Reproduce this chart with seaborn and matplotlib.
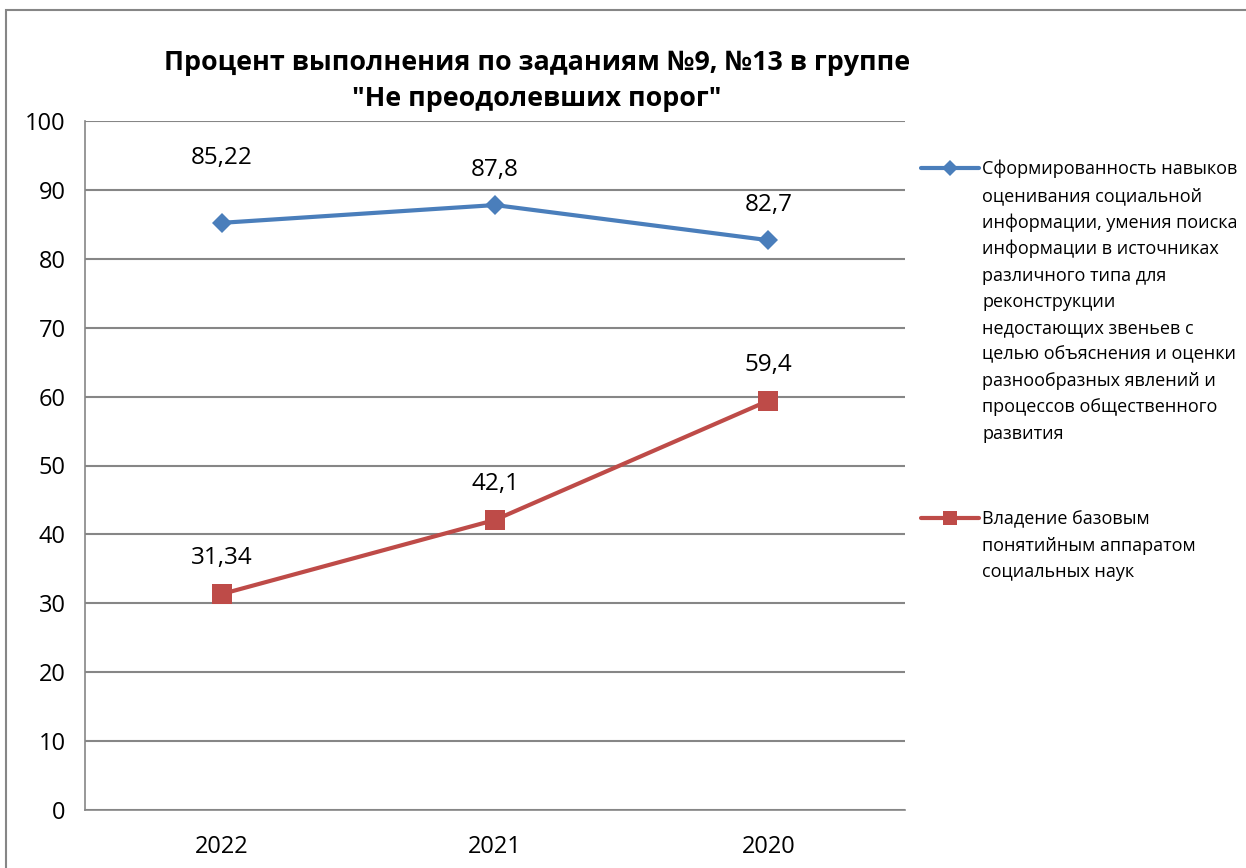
import matplotlib
matplotlib.use("Agg")
import matplotlib.pyplot as plt
import matplotlib.patches as mpatches
from matplotlib.lines import Line2D
import pandas as pd
import seaborn as sns

# Chart data
years = ["2022", "2021", "2020"]
skills_values = [85.22, 87.8, 82.7]
concepts_values = [31.34, 42.1, 59.4]
skills_label = ["Сформированность навыков", "оценивания социальной",
                "информации, умения поиска", "информации в источниках",
                "различного типа для", "реконструкции",
                "недостающих звеньев с", "целью объяснения и оценки",
                "разнообразных явлений и", "процессов общественного",
                "развития"]
concepts_label = ["Владение базовым", "понятийным аппаратом", "социальных наук"]
title = 'Процент выполнения по заданиям №9, №13 в группе\n"Не преодолевших порог"'
y_ticks = [0, 10, 20, 30, 40, 50, 60, 70, 80, 90, 100]

sns.set_style("white")
plt.rcParams['font.family'] = ['Open Sans', 'DejaVu Sans']
plt.rcParams['text.color'] = 'black'
plt.rcParams['xtick.labelcolor'] = 'black'
plt.rcParams['ytick.labelcolor'] = 'black'

blue = "#4A7EBB"
red = "#BE4B48"
grid_gray = "#868686"

df = pd.DataFrame({"year": years, "skills": skills_values, "concepts": concepts_values})

fig = plt.figure(figsize=(12.46, 8.68), dpi=100)
ax = fig.add_axes([85 / 1246, 1 - 810 / 868, 820 / 1246, 689 / 868])

sns.lineplot(data=df, x="year", y="skills", ax=ax, color=blue, linewidth=3,
             marker="D", markersize=10.5, markeredgewidth=0, sort=False)
sns.lineplot(data=df, x="year", y="concepts", ax=ax, color=red, linewidth=3,
             marker="s", markersize=14, markeredgewidth=0, sort=False)

# data labels above each point
label_offsets = [[47, 25, 25], [26, 26, 26]]
for series, offs in zip([skills_values, concepts_values], label_offsets):
    for i, (v, off) in enumerate(zip(series, offs)):
        ax.annotate(f"{v:g}".replace(".", ","), (i, v), xytext=(0, off),
                    textcoords="offset points", ha="center", va="center",
                    fontsize=17.5, color="black")

ax.set_xlim(-0.5, len(years) - 0.5)
ax.set_ylim(0, 100)
ax.set_yticks(y_ticks)
ax.set_xticks(range(len(years)))
ax.set_xticklabels(years)
ax.set_xticks([i - 0.5 for i in range(len(years) + 1)], minor=True)
ax.tick_params(axis="x", which="major", length=0, pad=18, labelsize=17)
ax.tick_params(axis="x", which="minor", length=8, width=1.2, color=grid_gray, direction="out")
ax.tick_params(axis="y", length=8, width=1.2, color=grid_gray, direction="out", pad=6, labelsize=17)
ax.set_xlabel("")
ax.set_ylabel("")
ax.grid(axis="y", color=grid_gray, linewidth=1.5)
ax.set_axisbelow(True)
for side in ["top", "right"]:
    ax.spines[side].set_visible(False)
for side in ["left", "bottom"]:
    ax.spines[side].set_color(grid_gray)
    ax.spines[side].set_linewidth(1.2)

fig.text(537 / 1246, 1 - 81 / 868, title, ha="center", va="center",
         fontsize=19.4, fontweight="bold", linespacing=1.55)

# legend, one row per text line; smaller markers as in the source
skills_handle = Line2D([], [], color=blue, linewidth=3, marker="D", markersize=8, markeredgewidth=0)
concepts_handle = Line2D([], [], color=red, linewidth=3, marker="s", markersize=10, markeredgewidth=0)
blank = Line2D([], [], alpha=0)
handles = [skills_handle] + [blank] * (len(skills_label) - 1) + [blank, blank] \
    + [concepts_handle] + [blank] * (len(concepts_label) - 1)
labels = skills_label + ["", ""] + concepts_label
leg = fig.legend(handles, labels, loc="upper left", bbox_to_anchor=(921 / 1246, 1 - 160 / 868),
                 frameon=False, fontsize=13, handlelength=3.2, handletextpad=0.2,
                 labelspacing=0.46, borderpad=0, borderaxespad=0)
# a slightly taller gap before the second series
leg.get_texts()[len(skills_label) + 1].set_fontsize(18.5)

# outer chart frame
fig.patches.append(mpatches.Rectangle((6 / 1246, -0.05), 1.1, 1 - 10 / 868 + 0.05,
                                      transform=fig.transFigure, fill=False,
                                      edgecolor=grid_gray, linewidth=1.5))

fig.savefig("out.png", dpi=100)
